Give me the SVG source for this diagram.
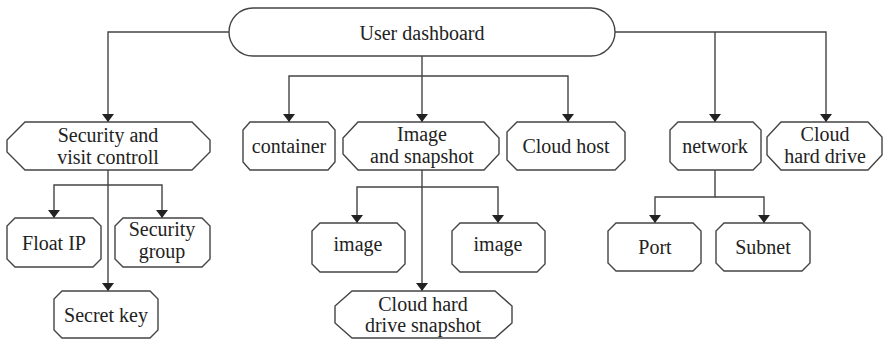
<svg xmlns="http://www.w3.org/2000/svg" width="883" height="340" viewBox="0 0 883 340">
<defs>
<marker id="arr" viewBox="0 0 8 12" refX="8" refY="6" markerWidth="8" markerHeight="12" markerUnits="userSpaceOnUse" orient="auto">
<path d="M0,0 L8,6 L0,12 Z" fill="#222"/>
</marker>
<style>
.n{fill:#fff;stroke:#444;stroke-width:1.4}
.c{fill:none;stroke:#444;stroke-width:1.4}
.a{marker-end:url(#arr)}
.t{font-family:'Liberation Serif','Times New Roman',Times,serif;font-size:20px;fill:#222;text-anchor:middle}
</style>
</defs>
<g id="connectors">
<path class="c a" d="M229,32 H108 V122"/>
<path class="c a" d="M422,56 V122"/>
<path class="c a" d="M422,76 H289 V122"/>
<path class="c a" d="M422,76 H568 V122"/>
<path class="c a" d="M615,32 H826 V122"/>
<path class="c a" d="M715,32 V122"/>
<path class="c a" d="M108,170 V291"/>
<path class="c a" d="M108,185 H54 V218"/>
<path class="c a" d="M108,185 H162 V218"/>
<path class="c a" d="M422,170 V291"/>
<path class="c a" d="M422,187 H357 V223"/>
<path class="c a" d="M422,187 H498 V223"/>
<path class="c a" d="M715,170 V197 H655 V223"/>
<path class="c a" d="M715,197 H764 V223"/>
</g>
<g class="t" font-family="Liberation Serif, Times New Roman, serif">
<g id="user-dashboard">
<rect class="n" x="229" y="8" width="386" height="48" rx="24"/>
<text x="422" y="40">User dashboard</text>
</g>
<g id="security">
<polygon class="n" points="25,122 192,122 210,140 210,152 192,170 25,170 7,152 7,140"/>
<text x="108" y="142">Security and</text>
<text x="108" y="164">visit controll</text>
</g>
<g id="container">
<polygon class="n" points="250,122 328,122 335,130 335,162 328,170 250,170 243,162 243,130"/>
<text x="289" y="153">container</text>
</g>
<g id="image-snapshot">
<polygon class="n" points="358,122 484,122 499,138 499,154 484,170 358,170 343,154 343,138"/>
<text x="422" y="141">Image</text>
<text x="422" y="163">and snapshot</text>
</g>
<g id="cloud-host">
<polygon class="n" points="517,122 615,122 625,132 625,160 615,170 517,170 507,160 507,132"/>
<text x="566" y="153">Cloud host</text>
</g>
<g id="network">
<polygon class="n" points="678,122 753,122 761,130 761,162 753,170 678,170 670,162 670,130"/>
<text x="715" y="153">network</text>
</g>
<g id="cloud-hard-drive">
<polygon class="n" points="781,122 868,122 882,137 882,155 868,170 781,170 767,155 767,137"/>
<text x="825" y="141">Cloud</text>
<text x="825" y="163">hard drive</text>
</g>
<g id="float-ip">
<polygon class="n" points="15,218 93,218 101,226 101,259 93,267 15,267 7,259 7,226"/>
<text x="54" y="250">Float IP</text>
</g>
<g id="security-group">
<polygon class="n" points="123,218 202,218 210,226 210,259 202,267 123,267 115,259 115,226"/>
<text x="162" y="236">Security</text>
<text x="162" y="258">group</text>
</g>
<g id="secret-key">
<polygon class="n" points="62,291 150,291 158,299 158,330 150,338 62,338 54,330 54,299"/>
<text x="106" y="322">Secret key</text>
</g>
<g id="image-left">
<polygon class="n" points="320,223 397,223 405,231 405,264 397,272 320,272 312,264 312,231"/>
<text x="358" y="251">image</text>
</g>
<g id="image-right">
<polygon class="n" points="460,223 537,223 545,231 545,264 537,272 460,272 452,264 452,231"/>
<text x="498" y="251">image</text>
</g>
<g id="cloud-hard-drive-snapshot">
<polygon class="n" points="352,291 495,291 512,306 512,323 495,338 352,338 335,323 335,306"/>
<text x="423" y="311">Cloud hard</text>
<text x="423" y="332">drive snapshot</text>
</g>
<g id="port">
<polygon class="n" points="616,223 693,223 701,231 701,263 693,271 616,271 608,263 608,231"/>
<text x="655" y="254">Port</text>
</g>
<g id="subnet">
<polygon class="n" points="724,223 802,223 810,231 810,263 802,271 724,271 716,263 716,231"/>
<text x="763" y="254">Subnet</text>
</g>
</g>
</svg>
